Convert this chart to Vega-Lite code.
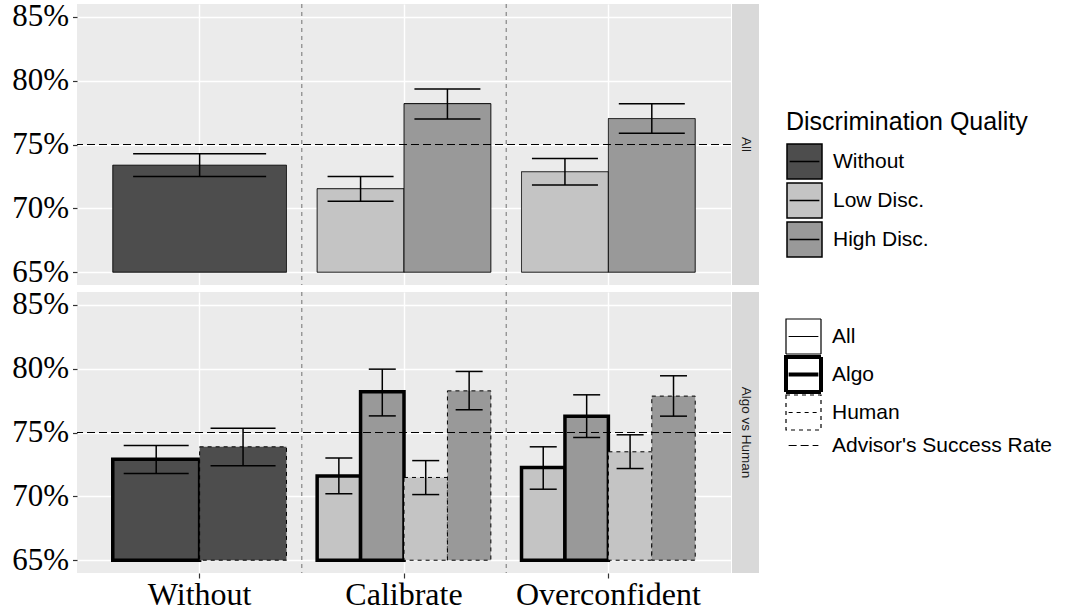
{
  "$schema": "https://vega.github.io/schema/vega-lite/v6.json",
  "padding": {"left": 11, "top": 0, "right": 0, "bottom": 0},
  "datasets": {
    "top": [
      {"cond": "Without", "q": "Without", "src": "All", "m": 0.7338, "lo": 0.7250, "hi": 0.7427},
      {"cond": "Calibrate", "q": "Low Disc.", "src": "All", "m": 0.7154, "lo": 0.7055, "hi": 0.7250},
      {"cond": "Calibrate", "q": "High Disc.", "src": "All", "m": 0.7820, "lo": 0.7700, "hi": 0.7935},
      {"cond": "Overconfident", "q": "Low Disc.", "src": "All", "m": 0.7287, "lo": 0.7182, "hi": 0.7390},
      {"cond": "Overconfident", "q": "High Disc.", "src": "All", "m": 0.7703, "lo": 0.7588, "hi": 0.7820}
    ],
    "bottom": [
      {"cond": "Without", "q": "Without", "src": "Algo", "key": "Algo", "m": 0.7291, "lo": 0.7179, "hi": 0.7398},
      {"cond": "Without", "q": "Without", "src": "Human", "key": "Human", "m": 0.7388, "lo": 0.7239, "hi": 0.7534},
      {"cond": "Calibrate", "q": "Low Disc.", "src": "Algo", "key": "Algo Low", "m": 0.7160, "lo": 0.7020, "hi": 0.7300},
      {"cond": "Calibrate", "q": "High Disc.", "src": "Algo", "key": "Algo High", "m": 0.7819, "lo": 0.7630, "hi": 0.7996},
      {"cond": "Calibrate", "q": "Low Disc.", "src": "Human", "key": "Human Low", "m": 0.7148, "lo": 0.7014, "hi": 0.7280},
      {"cond": "Calibrate", "q": "High Disc.", "src": "Human", "key": "Human High", "m": 0.7826, "lo": 0.7678, "hi": 0.7978},
      {"cond": "Overconfident", "q": "Low Disc.", "src": "Algo", "key": "Algo Low", "m": 0.7226, "lo": 0.7056, "hi": 0.7388},
      {"cond": "Overconfident", "q": "High Disc.", "src": "Algo", "key": "Algo High", "m": 0.7628, "lo": 0.7461, "hi": 0.7795},
      {"cond": "Overconfident", "q": "Low Disc.", "src": "Human", "key": "Human Low", "m": 0.7349, "lo": 0.7218, "hi": 0.7482},
      {"cond": "Overconfident", "q": "High Disc.", "src": "Human", "key": "Human High", "m": 0.7785, "lo": 0.7628, "hi": 0.7944}
    ],
    "sep": [{"cond": "Calibrate"}, {"cond": "Overconfident"}],
    "ref": [{"rate": 0.75, "src": "Advisor's Success Rate"}]
  },
  "spacing": 0,
  "resolve": {"scale": {"xOffset": "independent", "fill": "shared", "strokeDash": "shared"}, "legend": {"fill": "shared", "strokeDash": "shared"}},
  "vconcat": [
    {
      "spacing": 0,
      "hconcat": [
        {
          "width": 654, "height": 281,
          "view": {"fill": "#ebebeb", "stroke": null},
          "layer": [
            {
              "data": {"name": "sep"},
              "mark": {"type": "rule", "color": "#707070", "strokeDash": [4, 4], "strokeWidth": 1, "opacity": 1},
              "encoding": {"x": {"field": "cond", "type": "nominal", "bandPosition": 0, "scale": {"domain": ["Without", "Calibrate", "Overconfident"], "paddingInner": 0, "paddingOuter": 0.1}, "axis": {"title": null, "labels": false, "ticks": false, "bandPosition": 0.5, "grid": true}}}
            },
            {
              "data": {"name": "top"},
              "transform": [{"filter": "datum.cond === 'Without'"}],
              "encoding": {"x": {"field": "cond", "type": "nominal", "scale": {"domain": ["Without", "Calibrate", "Overconfident"], "paddingInner": 0, "paddingOuter": 0.1}}},
              "layer": [
                {
                  "mark": {"type": "bar", "width": {"band": 0.85}, "stroke": "black", "opacity": 1},
                  "encoding": {
                    "y": {"field": "m", "type": "quantitative", "scale": {"domain": [0.64, 0.86], "nice": false, "zero": false},
                      "axis": {"title": null, "values": [0.65, 0.675, 0.7, 0.725, 0.75, 0.775, 0.8, 0.825, 0.85], "format": ".0%", "labelExpr": "round(datum.value*1000) % 50 == 0 ? datum.label : ''", "tickOpacity": {"condition": {"test": "round(datum.value*1000) % 50 == 0", "value": 1}, "value": 0}, "gridWidth": {"condition": {"test": "round(datum.value*1000) % 50 == 0", "value": 1.4}, "value": 0.7}}},
                    "y2": {"datum": 0.65},
                    "fill": {"field": "q", "type": "nominal", "scale": {"domain": ["Without", "Low Disc.", "High Disc."], "range": ["#4d4d4d", "#c4c4c4", "#999999"]},
                      "legend": {"orient": "none", "legendX": 709, "legendY": 106, "title": "Discrimination Quality", "titleFont": "Liberation Sans", "titleFontSize": 25, "titleFontWeight": "normal", "titleColor": "black", "titlePadding": 8, "titleLimit": 500, "labelLimit": 400, "labelFont": "Liberation Sans", "labelFontSize": 21, "labelColor": "black", "labelOffset": 10, "rowPadding": -8, "padding": 0, "symbolSize": 1225, "symbolType": "M-1,-1H1V1H-1Z M-0.85,0H0.85", "symbolStrokeColor": "black", "symbolStrokeWidth": 1.5, "symbolOpacity": 1}},
                    "strokeDash": {"field": "src", "type": "nominal", "scale": {"domain": ["All", "Algo", "Human", "Advisor's Success Rate"], "range": [[1, 0], [1, 0], [4, 4], [8, 4]]},
                      "legend": {"orient": "none", "legendX": 716, "legendY": 322, "title": null, "labelLimit": 400, "labelFont": "Liberation Sans", "labelFontSize": 21, "labelColor": "black", "labelOffset": 18, "rowPadding": -8, "padding": 0, "symbolSize": 1225, "symbolType": "M-1,-1H1V1H-1Z M-0.85,0H0.85", "symbolFillColor": "white", "symbolStrokeColor": "black", "symbolOpacity": 1, "encode": {"symbols": {"update": {"strokeWidth": {"signal": "datum.value === 'Algo' ? 4 : 1.2"}, "shape": {"signal": "indexof(datum.value, 'Advisor') >= 0 ? 'M-1,-1M1,1M-0.85,0H0.85' : 'M-1,-1H1V1H-1Z M-0.85,0H0.85'"}}, "strokeWidth": {"value": {"signal": "datum.value === 'Algo' ? 4 : 1.2"}}, "shape": {"value": {"signal": "indexof(datum.value, 'Advisor') >= 0 ? 'M-1,-1M1,1M-0.85,0H0.85' : 'M-1,-1H1V1H-1Z M-0.85,0H0.85'"}}}}}},
                    "strokeWidth": {"condition": {"test": "datum.src === 'Algo'", "value": 3.5}, "value": 1}
                  }
                },
                {"mark": {"type": "rule", "color": "black", "strokeWidth": 1.5, "opacity": 1}, "encoding": {"y": {"field": "lo", "type": "quantitative", "scale": {"domain": [0.64, 0.86], "nice": false, "zero": false}}, "y2": {"field": "hi"}}},
                {"mark": {"type": "tick", "color": "black", "size": 133, "thickness": 1.5, "opacity": 1}, "encoding": {"y": {"field": "lo", "type": "quantitative", "scale": {"domain": [0.64, 0.86], "nice": false, "zero": false}}}},
                {"mark": {"type": "tick", "color": "black", "size": 133, "thickness": 1.5, "opacity": 1}, "encoding": {"y": {"field": "hi", "type": "quantitative", "scale": {"domain": [0.64, 0.86], "nice": false, "zero": false}}}}
              ]
            },
            {
              "data": {"name": "top"},
              "transform": [{"filter": "datum.cond !== 'Without'"}],
              "encoding": {
                "x": {"field": "cond", "type": "nominal", "scale": {"domain": ["Without", "Calibrate", "Overconfident"], "paddingInner": 0, "paddingOuter": 0.1}},
                "xOffset": {"field": "q", "type": "nominal", "scale": {"domain": ["Low Disc.", "High Disc."], "paddingInner": 0, "paddingOuter": 0.1765}}
              },
              "layer": [
                {
                  "mark": {"type": "bar", "stroke": "black", "opacity": 1},
                  "encoding": {
                    "y": {"field": "m", "type": "quantitative", "scale": {"domain": [0.64, 0.86], "nice": false, "zero": false}},
                    "y2": {"datum": 0.65},
                    "fill": {"field": "q", "type": "nominal", "scale": {"domain": ["Without", "Low Disc.", "High Disc."], "range": ["#4d4d4d", "#c4c4c4", "#999999"]},
                      "legend": {"orient": "none", "legendX": 709, "legendY": 106, "title": "Discrimination Quality", "titleFont": "Liberation Sans", "titleFontSize": 25, "titleFontWeight": "normal", "titleColor": "black", "titlePadding": 8, "titleLimit": 500, "labelLimit": 400, "labelFont": "Liberation Sans", "labelFontSize": 21, "labelColor": "black", "labelOffset": 10, "rowPadding": -8, "padding": 0, "symbolSize": 1225, "symbolType": "M-1,-1H1V1H-1Z M-0.85,0H0.85", "symbolStrokeColor": "black", "symbolStrokeWidth": 1.5, "symbolOpacity": 1}},
                    "strokeDash": {"field": "src", "type": "nominal", "scale": {"domain": ["All", "Algo", "Human", "Advisor's Success Rate"], "range": [[1, 0], [1, 0], [4, 4], [8, 4]]},
                      "legend": {"orient": "none", "legendX": 716, "legendY": 322, "title": null, "labelLimit": 400, "labelFont": "Liberation Sans", "labelFontSize": 21, "labelColor": "black", "labelOffset": 18, "rowPadding": -8, "padding": 0, "symbolSize": 1225, "symbolType": "M-1,-1H1V1H-1Z M-0.85,0H0.85", "symbolFillColor": "white", "symbolStrokeColor": "black", "symbolOpacity": 1, "encode": {"symbols": {"update": {"strokeWidth": {"signal": "datum.value === 'Algo' ? 4 : 1.2"}, "shape": {"signal": "indexof(datum.value, 'Advisor') >= 0 ? 'M-1,-1M1,1M-0.85,0H0.85' : 'M-1,-1H1V1H-1Z M-0.85,0H0.85'"}}, "strokeWidth": {"value": {"signal": "datum.value === 'Algo' ? 4 : 1.2"}}, "shape": {"value": {"signal": "indexof(datum.value, 'Advisor') >= 0 ? 'M-1,-1M1,1M-0.85,0H0.85' : 'M-1,-1H1V1H-1Z M-0.85,0H0.85'"}}}}}},
                    "strokeWidth": {"condition": {"test": "datum.src === 'Algo'", "value": 3.5}, "value": 1}
                  }
                },
                {"mark": {"type": "rule", "color": "black", "strokeWidth": 1.5, "opacity": 1}, "encoding": {"y": {"field": "lo", "type": "quantitative", "scale": {"domain": [0.64, 0.86], "nice": false, "zero": false}}, "y2": {"field": "hi"}}},
                {"mark": {"type": "tick", "color": "black", "size": 66, "thickness": 1.5, "opacity": 1}, "encoding": {"y": {"field": "lo", "type": "quantitative", "scale": {"domain": [0.64, 0.86], "nice": false, "zero": false}}}},
                {"mark": {"type": "tick", "color": "black", "size": 66, "thickness": 1.5, "opacity": 1}, "encoding": {"y": {"field": "hi", "type": "quantitative", "scale": {"domain": [0.64, 0.86], "nice": false, "zero": false}}}}
              ]
            },
            {
              "data": {"name": "ref"},
              "mark": {"type": "rule", "color": "black", "strokeWidth": 1.2, "opacity": 1},
              "encoding": {
                "y": {"field": "rate", "type": "quantitative", "scale": {"domain": [0.64, 0.86], "nice": false, "zero": false}},
                "strokeDash": {"field": "src", "type": "nominal", "scale": {"domain": ["All", "Algo", "Human", "Advisor's Success Rate"], "range": [[1, 0], [1, 0], [4, 4], [8, 4]]},
                  "legend": {"orient": "none", "legendX": 716, "legendY": 322, "title": null, "labelLimit": 400, "labelFont": "Liberation Sans", "labelFontSize": 21, "labelColor": "black", "labelOffset": 18, "rowPadding": -8, "padding": 0, "symbolSize": 1225, "symbolType": "M-1,-1H1V1H-1Z M-0.85,0H0.85", "symbolFillColor": "white", "symbolStrokeColor": "black", "symbolOpacity": 1, "encode": {"symbols": {"update": {"strokeWidth": {"signal": "datum.value === 'Algo' ? 4 : 1.2"}, "shape": {"signal": "indexof(datum.value, 'Advisor') >= 0 ? 'M-1,-1M1,1M-0.85,0H0.85' : 'M-1,-1H1V1H-1Z M-0.85,0H0.85'"}}, "strokeWidth": {"value": {"signal": "datum.value === 'Algo' ? 4 : 1.2"}}, "shape": {"value": {"signal": "indexof(datum.value, 'Advisor') >= 0 ? 'M-1,-1M1,1M-0.85,0H0.85' : 'M-1,-1H1V1H-1Z M-0.85,0H0.85'"}}}}}}
              }
            }
          ]
        },
        {
          "width": 27, "height": 281,
          "view": {"fill": "#d9d9d9", "stroke": null},
          "data": {"values": [{"label": "All"}]},
          "mark": {"type": "text", "angle": 90, "font": "Liberation Sans", "fontSize": 13.5, "color": "#1a1a1a"},
          "encoding": {"text": {"field": "label", "type": "nominal"}}
        }
      ]
    },
    {
      "spacing": 0,
      "hconcat": [
        {
          "width": 654, "height": 281,
          "view": {"fill": "#ebebeb", "stroke": null},
          "resolve": {"scale": {"xOffset": "independent"}},
          "layer": [
            {
              "data": {"name": "sep"},
              "mark": {"type": "rule", "color": "#707070", "strokeDash": [4, 4], "strokeWidth": 1, "opacity": 1},
              "encoding": {"x": {"field": "cond", "type": "nominal", "bandPosition": 0, "scale": {"domain": ["Without", "Calibrate", "Overconfident"], "paddingInner": 0, "paddingOuter": 0.1}, "axis": {"title": null, "bandPosition": 0.5, "grid": true}}}
            },
            {
              "data": {"name": "bottom"},
              "transform": [{"filter": "datum.cond === 'Without'"}],
              "encoding": {
                "x": {"field": "cond", "type": "nominal", "scale": {"domain": ["Without", "Calibrate", "Overconfident"], "paddingInner": 0, "paddingOuter": 0.1}},
                "xOffset": {"field": "key", "type": "nominal", "scale": {"domain": ["Algo", "Human"], "paddingInner": 0, "paddingOuter": 0.1765}}
              },
              "layer": [
                {
                  "mark": {"type": "bar", "stroke": "black", "opacity": 1},
                  "encoding": {
                    "y": {"field": "m", "type": "quantitative", "scale": {"domain": [0.64, 0.86], "nice": false, "zero": false},
                      "axis": {"title": null, "values": [0.65, 0.675, 0.7, 0.725, 0.75, 0.775, 0.8, 0.825, 0.85], "format": ".0%", "labelExpr": "round(datum.value*1000) % 50 == 0 ? datum.label : ''", "tickOpacity": {"condition": {"test": "round(datum.value*1000) % 50 == 0", "value": 1}, "value": 0}, "gridWidth": {"condition": {"test": "round(datum.value*1000) % 50 == 0", "value": 1.4}, "value": 0.7}}},
                    "y2": {"datum": 0.65},
                    "fill": {"field": "q", "type": "nominal", "scale": {"domain": ["Without", "Low Disc.", "High Disc."], "range": ["#4d4d4d", "#c4c4c4", "#999999"]},
                      "legend": {"orient": "none", "legendX": 709, "legendY": 106, "title": "Discrimination Quality", "titleFont": "Liberation Sans", "titleFontSize": 25, "titleFontWeight": "normal", "titleColor": "black", "titlePadding": 8, "titleLimit": 500, "labelLimit": 400, "labelFont": "Liberation Sans", "labelFontSize": 21, "labelColor": "black", "labelOffset": 10, "rowPadding": -8, "padding": 0, "symbolSize": 1225, "symbolType": "M-1,-1H1V1H-1Z M-0.85,0H0.85", "symbolStrokeColor": "black", "symbolStrokeWidth": 1.5, "symbolOpacity": 1}},
                    "strokeDash": {"field": "src", "type": "nominal", "scale": {"domain": ["All", "Algo", "Human", "Advisor's Success Rate"], "range": [[1, 0], [1, 0], [4, 4], [8, 4]]},
                      "legend": {"orient": "none", "legendX": 716, "legendY": 322, "title": null, "labelLimit": 400, "labelFont": "Liberation Sans", "labelFontSize": 21, "labelColor": "black", "labelOffset": 18, "rowPadding": -8, "padding": 0, "symbolSize": 1225, "symbolType": "M-1,-1H1V1H-1Z M-0.85,0H0.85", "symbolFillColor": "white", "symbolStrokeColor": "black", "symbolOpacity": 1, "encode": {"symbols": {"update": {"strokeWidth": {"signal": "datum.value === 'Algo' ? 4 : 1.2"}, "shape": {"signal": "indexof(datum.value, 'Advisor') >= 0 ? 'M-1,-1M1,1M-0.85,0H0.85' : 'M-1,-1H1V1H-1Z M-0.85,0H0.85'"}}, "strokeWidth": {"value": {"signal": "datum.value === 'Algo' ? 4 : 1.2"}}, "shape": {"value": {"signal": "indexof(datum.value, 'Advisor') >= 0 ? 'M-1,-1M1,1M-0.85,0H0.85' : 'M-1,-1H1V1H-1Z M-0.85,0H0.85'"}}}}}},
                    "strokeWidth": {"condition": {"test": "datum.src === 'Algo'", "value": 3.5}, "value": 1}
                  }
                },
                {"mark": {"type": "rule", "color": "black", "strokeWidth": 1.5, "opacity": 1}, "encoding": {"y": {"field": "lo", "type": "quantitative", "scale": {"domain": [0.64, 0.86], "nice": false, "zero": false}}, "y2": {"field": "hi"}}},
                {"mark": {"type": "tick", "color": "black", "size": 65, "thickness": 1.5, "opacity": 1}, "encoding": {"y": {"field": "lo", "type": "quantitative", "scale": {"domain": [0.64, 0.86], "nice": false, "zero": false}}}},
                {"mark": {"type": "tick", "color": "black", "size": 65, "thickness": 1.5, "opacity": 1}, "encoding": {"y": {"field": "hi", "type": "quantitative", "scale": {"domain": [0.64, 0.86], "nice": false, "zero": false}}}}
              ]
            },
            {
              "data": {"name": "bottom"},
              "transform": [{"filter": "datum.cond !== 'Without'"}],
              "encoding": {
                "x": {"field": "cond", "type": "nominal", "scale": {"domain": ["Without", "Calibrate", "Overconfident"], "paddingInner": 0, "paddingOuter": 0.1}},
                "xOffset": {"field": "key", "type": "nominal", "scale": {"domain": ["Algo Low", "Algo High", "Human Low", "Human High"], "paddingInner": 0, "paddingOuter": 0.353}}
              },
              "layer": [
                {
                  "mark": {"type": "bar", "stroke": "black", "opacity": 1},
                  "encoding": {
                    "y": {"field": "m", "type": "quantitative", "scale": {"domain": [0.64, 0.86], "nice": false, "zero": false}},
                    "y2": {"datum": 0.65},
                    "fill": {"field": "q", "type": "nominal", "scale": {"domain": ["Without", "Low Disc.", "High Disc."], "range": ["#4d4d4d", "#c4c4c4", "#999999"]},
                      "legend": {"orient": "none", "legendX": 709, "legendY": 106, "title": "Discrimination Quality", "titleFont": "Liberation Sans", "titleFontSize": 25, "titleFontWeight": "normal", "titleColor": "black", "titlePadding": 8, "titleLimit": 500, "labelLimit": 400, "labelFont": "Liberation Sans", "labelFontSize": 21, "labelColor": "black", "labelOffset": 10, "rowPadding": -8, "padding": 0, "symbolSize": 1225, "symbolType": "M-1,-1H1V1H-1Z M-0.85,0H0.85", "symbolStrokeColor": "black", "symbolStrokeWidth": 1.5, "symbolOpacity": 1}},
                    "strokeDash": {"field": "src", "type": "nominal", "scale": {"domain": ["All", "Algo", "Human", "Advisor's Success Rate"], "range": [[1, 0], [1, 0], [4, 4], [8, 4]]},
                      "legend": {"orient": "none", "legendX": 716, "legendY": 322, "title": null, "labelLimit": 400, "labelFont": "Liberation Sans", "labelFontSize": 21, "labelColor": "black", "labelOffset": 18, "rowPadding": -8, "padding": 0, "symbolSize": 1225, "symbolType": "M-1,-1H1V1H-1Z M-0.85,0H0.85", "symbolFillColor": "white", "symbolStrokeColor": "black", "symbolOpacity": 1, "encode": {"symbols": {"update": {"strokeWidth": {"signal": "datum.value === 'Algo' ? 4 : 1.2"}, "shape": {"signal": "indexof(datum.value, 'Advisor') >= 0 ? 'M-1,-1M1,1M-0.85,0H0.85' : 'M-1,-1H1V1H-1Z M-0.85,0H0.85'"}}, "strokeWidth": {"value": {"signal": "datum.value === 'Algo' ? 4 : 1.2"}}, "shape": {"value": {"signal": "indexof(datum.value, 'Advisor') >= 0 ? 'M-1,-1M1,1M-0.85,0H0.85' : 'M-1,-1H1V1H-1Z M-0.85,0H0.85'"}}}}}},
                    "strokeWidth": {"condition": {"test": "datum.src === 'Algo'", "value": 3.5}, "value": 1}
                  }
                },
                {"mark": {"type": "rule", "color": "black", "strokeWidth": 1.5, "opacity": 1}, "encoding": {"y": {"field": "lo", "type": "quantitative", "scale": {"domain": [0.64, 0.86], "nice": false, "zero": false}}, "y2": {"field": "hi"}}},
                {"mark": {"type": "tick", "color": "black", "size": 27, "thickness": 1.5, "opacity": 1}, "encoding": {"y": {"field": "lo", "type": "quantitative", "scale": {"domain": [0.64, 0.86], "nice": false, "zero": false}}}},
                {"mark": {"type": "tick", "color": "black", "size": 27, "thickness": 1.5, "opacity": 1}, "encoding": {"y": {"field": "hi", "type": "quantitative", "scale": {"domain": [0.64, 0.86], "nice": false, "zero": false}}}}
              ]
            },
            {
              "data": {"name": "ref"},
              "mark": {"type": "rule", "color": "black", "strokeWidth": 1.2, "opacity": 1},
              "encoding": {
                "y": {"field": "rate", "type": "quantitative", "scale": {"domain": [0.64, 0.86], "nice": false, "zero": false}},
                "strokeDash": {"field": "src", "type": "nominal", "scale": {"domain": ["All", "Algo", "Human", "Advisor's Success Rate"], "range": [[1, 0], [1, 0], [4, 4], [8, 4]]},
                  "legend": {"orient": "none", "legendX": 716, "legendY": 322, "title": null, "labelLimit": 400, "labelFont": "Liberation Sans", "labelFontSize": 21, "labelColor": "black", "labelOffset": 18, "rowPadding": -8, "padding": 0, "symbolSize": 1225, "symbolType": "M-1,-1H1V1H-1Z M-0.85,0H0.85", "symbolFillColor": "white", "symbolStrokeColor": "black", "symbolOpacity": 1, "encode": {"symbols": {"update": {"strokeWidth": {"signal": "datum.value === 'Algo' ? 4 : 1.2"}, "shape": {"signal": "indexof(datum.value, 'Advisor') >= 0 ? 'M-1,-1M1,1M-0.85,0H0.85' : 'M-1,-1H1V1H-1Z M-0.85,0H0.85'"}}, "strokeWidth": {"value": {"signal": "datum.value === 'Algo' ? 4 : 1.2"}}, "shape": {"value": {"signal": "indexof(datum.value, 'Advisor') >= 0 ? 'M-1,-1M1,1M-0.85,0H0.85' : 'M-1,-1H1V1H-1Z M-0.85,0H0.85'"}}}}}}
              }
            }
          ]
        },
        {
          "width": 27, "height": 281,
          "view": {"fill": "#d9d9d9", "stroke": null},
          "data": {"values": [{"label": "Algo vs Human"}]},
          "mark": {"type": "text", "angle": 90, "font": "Liberation Sans", "fontSize": 13.5, "color": "#1a1a1a"},
          "encoding": {"text": {"field": "label", "type": "nominal"}}
        }
      ]
    }
  ],
  "config": {
    "view": {"stroke": null},
    "axisY": {"labelFont": "Liberation Serif", "labelFontSize": 31, "labelColor": "black", "tickColor": "#333333", "tickSize": 4.5, "tickWidth": 1.2, "labelPadding": 4, "domain": false, "gridColor": "white"},
    "axisX": {"labelFont": "Liberation Serif", "labelFontSize": 32, "labelColor": "black", "tickColor": "#333333", "tickSize": 5, "tickWidth": 1.2, "labelPadding": 1, "labelLimit": 0, "domain": false, "gridColor": "white", "gridWidth": 1.4, "labelAngle": 0}
  }
}
